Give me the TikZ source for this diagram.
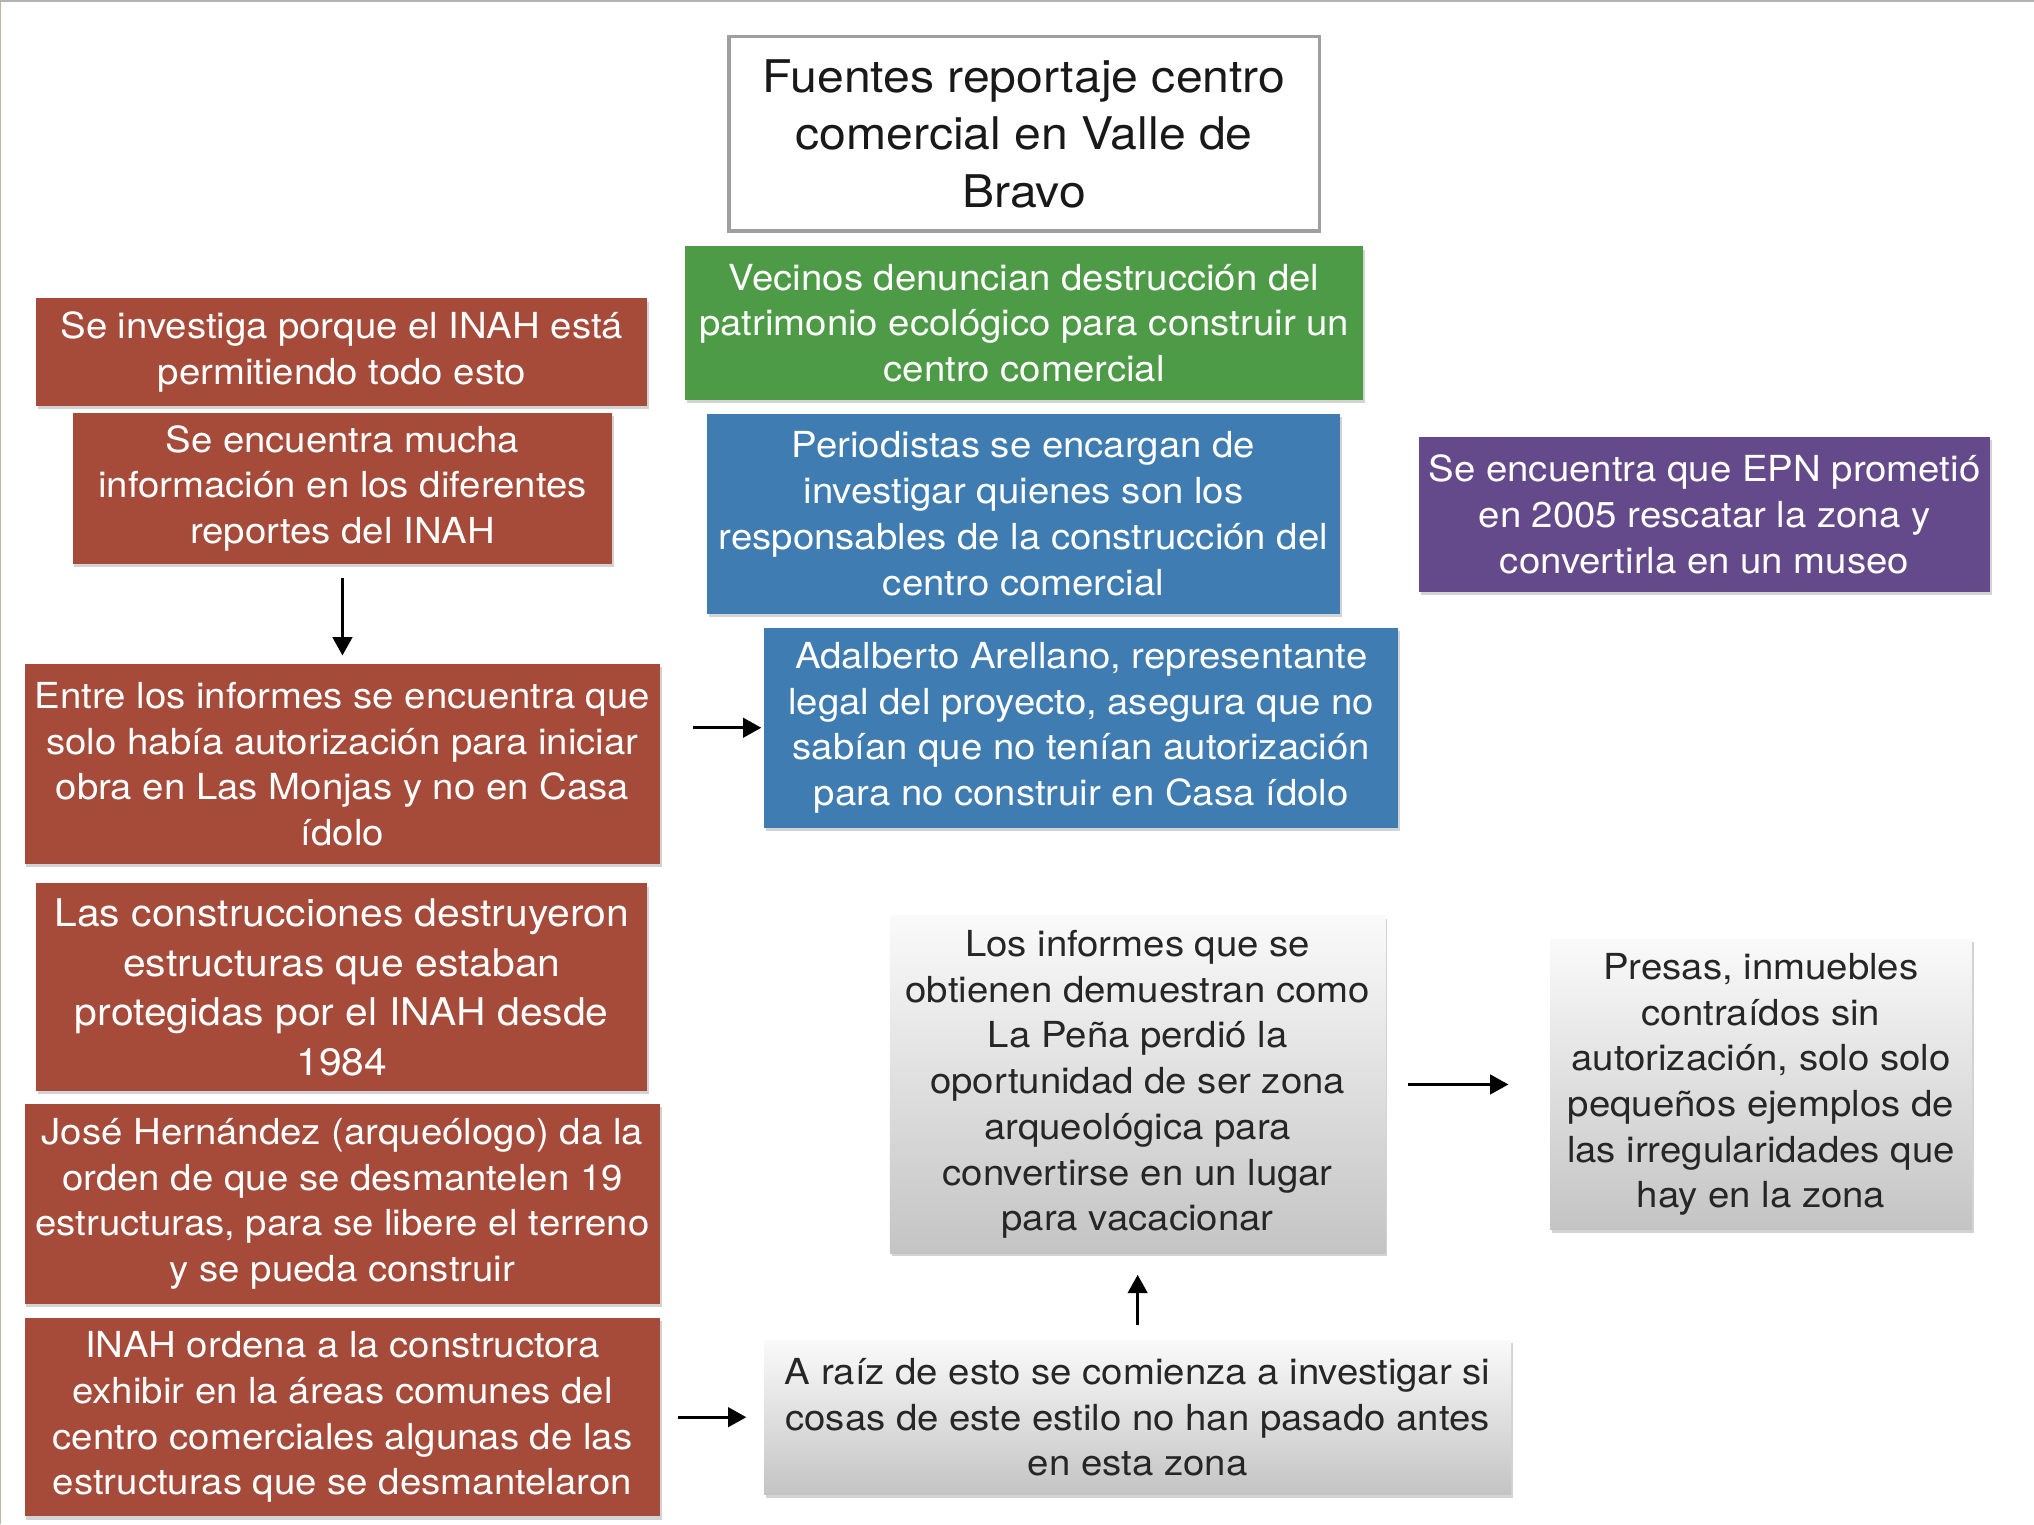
\documentclass[tikz,border=0pt]{standalone}
\usepackage{fontspec}
\setmainfont[FakeStretch=1.07]{TeX Gyre Heros}
\usetikzlibrary{arrows.meta,shadows,calc}
\definecolor{cred}{HTML}{A64A3A}
\definecolor{cblue}{HTML}{3F7CB2}
\definecolor{cgreen}{HTML}{4E9B47}
\definecolor{cpurple}{HTML}{654A8B}
\definecolor{gtop}{HTML}{FAFAFA}
\definecolor{gbot}{HTML}{C4C4C4}
\newcommand\mybox[7]{\node[#6, minimum width={(#4-#2)*0.01297cm}, minimum height={(#5-#3)*0.01297cm}] (#1) at ({(#2+#4)/2},{(#3+#5)/2}) {#7};}
\tikzset{
  base/.style={rectangle, inner sep=0pt, align=center, font=\fontsize{10.2}{13.0}\selectfont},
  shad/.style={drop shadow={shadow xshift=0.5pt, shadow yshift=-0.9pt, opacity=0.35}},
  colbox/.style={base, shad, text=white},
  redbox/.style={colbox, fill=cred},
  bluebox/.style={colbox, fill=cblue},
  greenbox/.style={colbox, fill=cgreen},
  purplebox/.style={colbox, fill=cpurple},
  greybox/.style={base, shad, top color=gtop, bottom color=gbot, text=black!85},
  titlebox/.style={base, fill=white, draw=gray!75, line width=1pt, text=black!90, font=\fontsize{12.8}{16.4}\selectfont},
  arr/.style={-{Triangle[length=5.2pt,width=5.5pt]}, line width=0.95pt, black}
}
\begin{document}
\begin{tikzpicture}[x=0.01297cm,y=-0.01297cm]
\useasboundingbox (0,0) rectangle (1568,1175);
\draw[gray!60, line width=0.6pt] (0,0.5) -- (1568,0.5);
\draw[gray!50!brown!60, line width=0.4pt] (0.5,0) -- (0.5,1175);

\mybox{title}{562}{28}{1017}{178}{titlebox}{Fuentes reportaje centro\\comercial en Valle de\\Bravo}
\mybox{green}{528}{190}{1051}{308}{greenbox}{Vecinos denuncian destrucción del\\patrimonio ecológico para construir un\\centro comercial}

\mybox{redA}{28}{230}{499}{313}{redbox}{Se investiga porque el INAH está\\permitiendo todo esto}
\mybox{redB}{56}{318}{472}{435}{redbox}{Se encuentra mucha\\información en los diferentes\\reportes del INAH}
\mybox{redC}{19}{512}{509}{666}{redbox}{Entre los informes se encuentra que\\solo había autorización para iniciar\\obra en Las Monjas y no en Casa\\ídolo}
\mybox{redD}{28}{681}{499}{841}{redbox, font=\fontsize{10.85}{14.1}\selectfont}{Las construcciones destruyeron\\estructuras que estaban\\protegidas por el INAH desde\\1984}
\mybox{redE}{19}{851}{509}{1005}{redbox}{José Hernández (arqueólogo) da la\\orden de que se desmantelen 19\\estructuras, para se libere el terreno\\y se pueda construir}
\mybox{redF}{19}{1016}{509}{1169}{redbox}{INAH ordena a la constructora\\exhibir en la áreas comunes del\\centro comerciales algunas de las\\estructuras que se desmantelaron}

\mybox{blueA}{545}{319}{1033}{473}{bluebox}{Periodistas se encargan de\\investigar quienes son los\\responsables de la construcción del\\centro comercial}
\mybox{blueB}{589}{484}{1078}{638}{bluebox}{Adalberto Arellano, representante\\legal del proyecto, asegura que no\\sabían que no tenían autorización\\para no construir en Casa ídolo}
\mybox{purple}{1094}{337}{1534}{456}{purplebox}{Se encuentra que EPN prometió\\en 2005 rescatar la zona y\\convertirla en un museo}

\mybox{greyA}{686}{706}{1068}{966}{greybox}{Los informes que se\\obtienen demuestran como\\La Peña perdió la\\oportunidad de ser zona\\arqueológica para\\convertirse en un lugar\\para vacacionar}
\mybox{greyB}{1195}{724}{1520}{948}{greybox}{Presas, inmuebles\\contraídos sin\\autorización, solo solo\\pequeños ejemplos de\\las irregularidades que\\hay en la zona}
\mybox{greyC}{589}{1033}{1165}{1152}{greybox}{A raíz de esto se comienza a investigar si\\cosas de este estilo no han pasado antes\\en esta zona}

\draw[arr, shorten <=0.13cm, shorten >=0.08cm] (redB.south) -- (redC.north);
\draw[arr, shorten <=0.32cm, shorten >=0.02cm] (redC.east |- blueB.west) -- (blueB.west);
\draw[arr, shorten <=0.17cm, shorten >=0.17cm] (redF.east) -- (greyC.west);
\draw[arr, shorten <=0.14cm, shorten >=0.21cm] (greyC.north) -- (greyA.south);
\draw[arr, shorten <=0.22cm, shorten >=0.41cm] (greyA.east) -- (greyB.west);
\end{tikzpicture}
\end{document}
